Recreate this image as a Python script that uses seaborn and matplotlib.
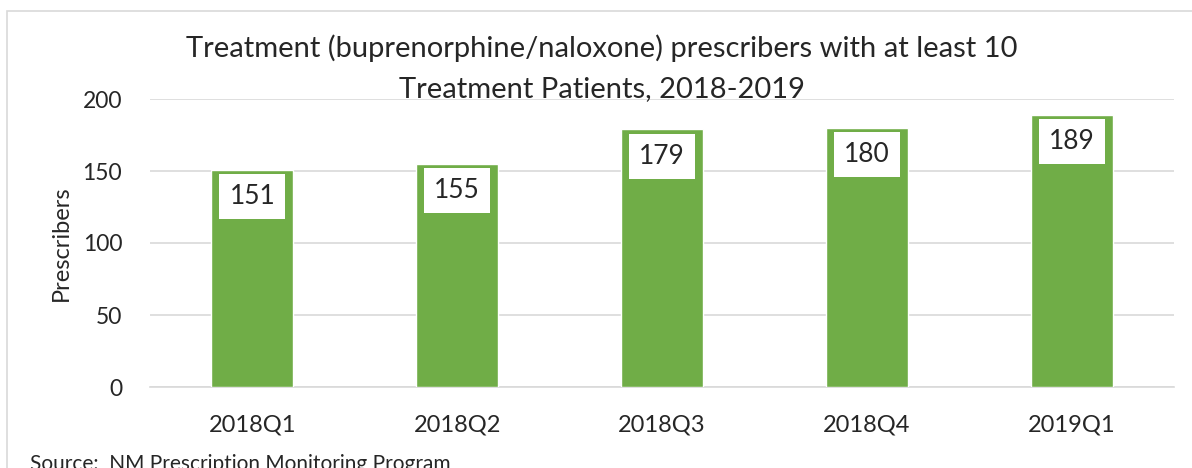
import matplotlib.pyplot as plt
import pandas as pd
import seaborn as sns
from matplotlib.patches import Rectangle

# prescriber counts by quarter
quarters = ['2018Q1', '2018Q2', '2018Q3', '2018Q4', '2019Q1']
prescribers = [151, 155, 179, 180, 189]

df = pd.DataFrame({'quarter': quarters, 'prescribers': prescribers})

sns.set_style("white")
plt.rcParams['font.family'] = ['Lato', 'DejaVu Sans']

fig = plt.figure(figsize=(11.92, 4.68), dpi=100)
ax = fig.add_axes([150/1192, 1-387/468, 1024/1192, 288/468])

sns.barplot(data=df, x='quarter', y='prescribers', color='#70AD47',
            width=0.4, saturation=1, ax=ax, zorder=3)

ax.set_ylim(0, 200)
ax.set_yticks([0, 50, 100, 150, 200])
ax.yaxis.grid(True, color='#D9D9D9', linewidth=1.2, zorder=0)
ax.set_xlabel('')
ax.set_ylabel('Prescribers', fontsize=17, labelpad=8)
ax.tick_params(axis='x', labelsize=17, length=0, pad=20)
ax.tick_params(axis='y', labelsize=16.5, length=0, pad=20)
for s in ['top', 'right', 'left']:
    ax.spines[s].set_visible(False)
ax.spines['bottom'].set_color('#D9D9D9')
ax.spines['bottom'].set_linewidth(1.2)

# value labels in white boxes near the top of each bar
for i, v in enumerate(prescribers):
    ax.annotate(str(v), (i, v), xytext=(0, -19.5), textcoords='offset points',
                ha='center', va='center', fontsize=19, zorder=5,
                bbox=dict(boxstyle='square,pad=0.38', fc='white', ec='none'))

fig.text(602/1192, 1-48/468,
         'Treatment (buprenorphine/naloxone) prescribers with at least 10',
         ha='center', va='center', fontsize=21)
fig.text(602/1192, 1-89/468, 'Treatment Patients, 2018-2019',
         ha='center', va='center', fontsize=21)
fig.text(30/1192, 1-464/468, 'Source:  NM Prescription Monitoring Program',
         ha='left', va='center', fontsize=15)

# chart border
fig.patches.append(Rectangle((7/1192, -0.1), 1.2, 1-11/468+0.1,
                             transform=fig.transFigure, fill=False,
                             ec='#D9D9D9', lw=1.2))

fig.savefig('out.png', dpi=100)
